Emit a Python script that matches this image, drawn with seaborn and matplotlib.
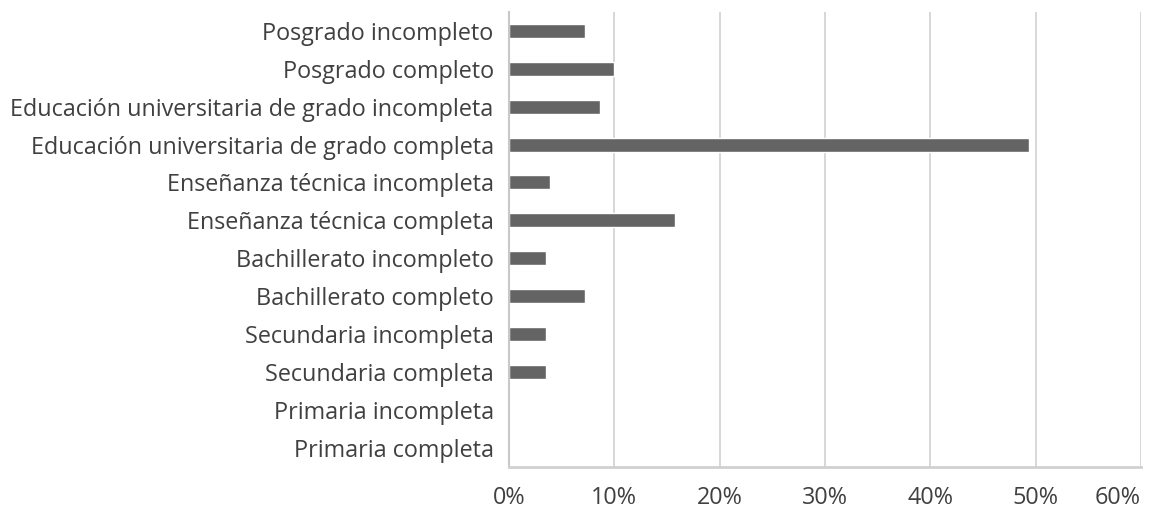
import numpy as np
import pandas as pd
import matplotlib.pyplot as plt
import seaborn as sns
from matplotlib.ticker import PercentFormatter

# Datos (de arriba hacia abajo)
niveles = [
    "Posgrado incompleto",
    "Posgrado completo",
    "Educación universitaria de grado incompleta",
    "Educación universitaria de grado completa",
    "Enseñanza técnica incompleta",
    "Enseñanza técnica completa",
    "Bachillerato incompleto",
    "Bachillerato completo",
    "Secundaria incompleta",
    "Secundaria completa",
    "Primaria incompleta",
    "Primaria completa",
]
porcentajes = [7.2, 10.0, 8.6, 49.4, 3.9, 15.8, 3.5, 7.2, 3.5, 3.5, 0.0, 0.0]

df = pd.DataFrame({"nivel": niveles, "pct": porcentajes})

sns.set_style("white")
plt.rcParams['font.family'] = ['Open Sans', 'DejaVu Sans']

fig = plt.figure(figsize=(11.5, 5.13), dpi=100)
ax = fig.add_axes([0.4426, 0.09, 0.5496, 0.887])

sns.barplot(data=df, y="nivel", x="pct", order=niveles, color="#646464",
            saturation=1, width=0.37, ax=ax)

ax.set_xlim(0, 60)
ax.set_xticks(np.arange(0, 61, 10))
ax.xaxis.set_major_formatter(PercentFormatter(decimals=0))
ax.grid(axis="x", color="#d4d4d4", linewidth=1.3)
ax.set_axisbelow(True)

for s in ["top", "right"]:
    ax.spines[s].set_visible(False)
ax.spines["left"].set_color("#c8c8c8")
ax.spines["bottom"].set_color("#d0d0d0")
ax.spines["left"].set_linewidth(1.5)
ax.spines["bottom"].set_linewidth(2)

ax.tick_params(axis="x", colors="#d0d0d0", length=6, width=1.3, labelcolor="#404040",
               labelsize=16.8, pad=8)
ax.tick_params(axis="y", length=0, labelcolor="#404040", labelsize=16.8, pad=11)
ax.set_xlabel("")
ax.set_ylabel("")

# la última etiqueta se alinea a la derecha para no salirse
ax.get_xticklabels()[-1].set_horizontalalignment("right")
ax.get_xticklabels()[-1].set_x(60)

fig.savefig("out.png", dpi=100)
